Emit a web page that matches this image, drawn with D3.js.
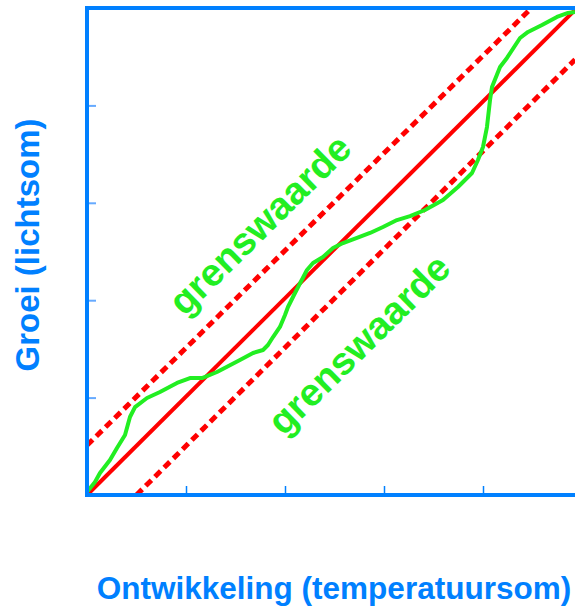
<!DOCTYPE html>
<html><head><meta charset="utf-8">
<script src="https://cdn.jsdelivr.net/npm/d3@7/dist/d3.min.js"></script>
<style>html,body{margin:0;padding:0;background:#fff;overflow:hidden}</style>
</head><body>
<svg id="c" width="575" height="607"></svg>
<script>
const xTicks = [0,1,2,3,4,5];
const yTicks = [0,1,2,3,4,5];
const solidLine = [[0,0],[4.93,4.98]];
const upperLimit = [[0,0.51],[4.49,5]];
const lowerLimit = [[0.5,0],[4.93,4.47]];
const curveX = [0,0.081,0.131,0.232,0.303,0.384,0.434,0.485,0.606,0.737,0.909,1.040,1.162,1.313,1.545,1.677,1.778,1.828,1.879,1.949,2.000,2.030,2.101,2.222,2.283,2.384,2.485,2.586,2.727,2.859,2.990,3.131,3.263,3.414,3.596,3.747,3.889,3.949,4.000,4.040,4.071,4.091,4.172,4.242,4.374,4.455,4.596,4.747,4.859,4.929];
const curveY = [0.031,0.133,0.226,0.359,0.483,0.616,0.801,0.903,0.996,1.057,1.150,1.201,1.201,1.263,1.386,1.458,1.489,1.540,1.622,1.725,1.848,1.930,2.074,2.310,2.382,2.444,2.536,2.587,2.639,2.690,2.752,2.823,2.864,2.926,3.029,3.162,3.306,3.439,3.573,3.778,4.055,4.189,4.394,4.487,4.692,4.754,4.825,4.908,4.949,4.959];
const labels = [
  {text:"grenswaarde", x:1.84, y:2.68, angle:-44.5},
  {text:"grenswaarde", x:2.84, y:1.45, angle:-44.5}
];
const xTitle = "Ontwikkeling (temperatuursom)";
const yTitle = "Groei (lichtsom)";

const BLUE = "#0080ff", RED = "#ff0000", GREEN = "#22ee22";
const svg = d3.select("#c");
const x = d3.scaleLinear().domain([0,5]).range([87,582]);
const y = d3.scaleLinear().domain([0,5]).range([495,8]);

const line = d3.line().x(d=>x(d[0])).y(d=>y(d[1]));

// ticks (inward)
svg.append("g").attr("transform","translate(87,0)")
  .call(d3.axisRight(y).tickValues(yTicks.slice(1,5)).tickSize(9).tickFormat(""))
  .call(g=>g.select(".domain").remove())
  .call(g=>g.selectAll("line").attr("stroke","#66aaff").attr("stroke-width",2));
svg.append("g").attr("transform","translate(0,495)")
  .call(d3.axisTop(x).tickValues(xTicks.slice(1,5)).tickSize(9).tickFormat(""))
  .call(g=>g.select(".domain").remove())
  .call(g=>g.selectAll("line").attr("stroke",BLUE).attr("stroke-width",1.5));

// limit lines
svg.append("path").attr("d",line(upperLimit)).attr("fill","none")
  .attr("stroke",RED).attr("stroke-width",5).attr("stroke-dasharray","8,5");
svg.append("path").attr("d",line(lowerLimit)).attr("fill","none")
  .attr("stroke",RED).attr("stroke-width",5).attr("stroke-dasharray","8,5");
svg.append("path").attr("d",line(solidLine)).attr("fill","none")
  .attr("stroke",RED).attr("stroke-width",4);

// green curve
const pts = curveX.map((v,i)=>[v,curveY[i]]);
svg.append("path").attr("d",line(pts)).attr("fill","none")
  .attr("stroke",GREEN).attr("stroke-width",4).attr("stroke-linejoin","round");

// frame
svg.append("path")
  .attr("d",`M${x(5)},${y(0)}L${x(0)},${y(0)}L${x(0)},${y(5)}L${x(5)},${y(5)}`)
  .attr("fill","none").attr("stroke",BLUE).attr("stroke-width",4);

// labels
labels.forEach(l=>{
  svg.append("text").text(l.text)
    .attr("transform",`translate(${x(l.x)},${y(l.y)}) rotate(${l.angle})`)
    .attr("text-anchor","middle")
    .attr("font-family","Liberation Sans, Arial, sans-serif").attr("font-weight","bold")
    .attr("font-size",38.5).attr("fill",GREEN);
});

svg.append("text").text(xTitle).attr("x",334).attr("y",599)
  .attr("text-anchor","middle")
  .attr("font-family","Liberation Sans, Arial, sans-serif").attr("font-weight","bold")
  .attr("font-size",31.5).attr("fill",BLUE);
svg.append("text").text(yTitle)
  .attr("transform","translate(39,245) rotate(-90)")
  .attr("text-anchor","middle")
  .attr("font-family","Liberation Sans, Arial, sans-serif").attr("font-weight","bold")
  .attr("font-size",33).attr("fill",BLUE);
</script>
</body></html>
